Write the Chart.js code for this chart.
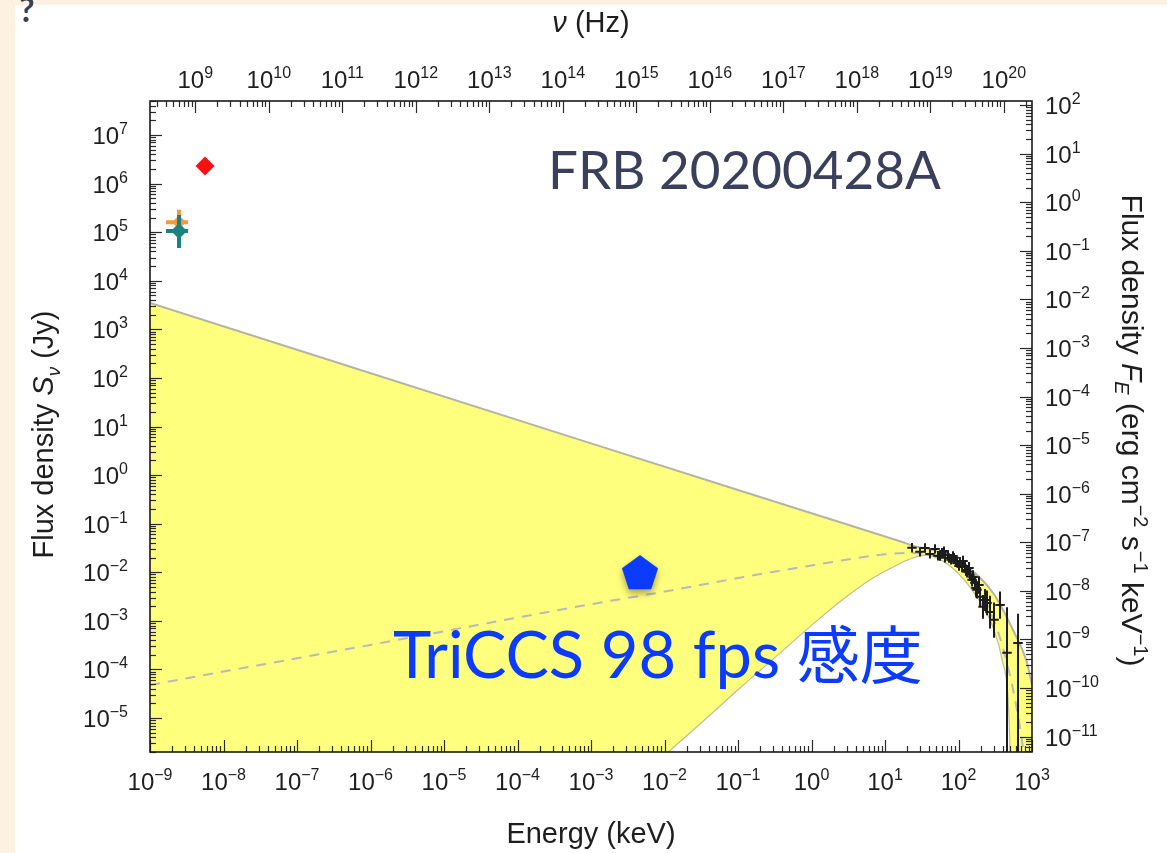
<!DOCTYPE html>
<html>
<head>
<meta charset="utf-8">
<script src="https://cdn.jsdelivr.net/npm/chart.js@4.4.1/dist/chart.umd.min.js"></script>
<style>
  html, body { margin: 0; padding: 0; background: #fdf2e2; overflow: hidden; }
  #page { position: absolute; left: 0; top: 0; width: 1167px; height: 853px; background: #fdf2e2; }
  #sheet { position: absolute; left: 15px; top: 5px; width: 1152px; height: 848px; background: #ffffff; }
  #c { position: absolute; left: 0; top: 0; }
</style>
</head>
<body>
<div id="page"><div id="sheet"></div><canvas id="c" width="1167" height="853"></canvas></div>
<script>
// ---- unit conversions (keV -> Hz, Jy -> erg cm^-2 s^-1 keV^-1) ----
const KEV_TO_HZ = 2.418e17;
const JY_TO_FE = 2.418e-6;

// ---- axis ranges and decade labels ----
const energyRange = [1e-9, 1e3];
const fluxRange = [2.0e-6, 5.0e7];
const energyExponents = [-9, -8, -7, -6, -5, -4, -3, -2, -1, 0, 1, 2, 3];
const freqExponents = [9, 10, 11, 12, 13, 14, 15, 16, 17, 18, 19, 20];
const fluxExponents = [-5, -4, -3, -2, -1, 0, 1, 2, 3, 4, 5, 6, 7];
const fluxEExponents = [-11, -10, -9, -8, -7, -6, -5, -4, -3, -2, -1, 0, 1, 2];

// ---- allowed band of the burst spectrum (upper and lower edges) ----
const bandUpperE = [1e-9, 1e-3, 1, 16, 27.2, 45, 131, 294, 551, 855, 1000];
const bandUpperS = [3.5e3, 4.5, 0.164, 0.0434, 0.0333, 0.0289, 0.0129, 3.78e-3, 6.5e-4, 1.37e-4, 4.8e-5];
const bandLowerE = [1e-9, 4.64e-3, 0.01081, 0.0304, 0.1064, 0.3724, 1.306, 3.34, 6.87, 13.7, 21.9, 35.0, 76.6, 178.6, 294.4, 402.7, 471, 502, 518, 1000];
const bandLowerS = [4e-7, 6.15e-7, 1.90e-6, 7.52e-6, 4.14e-5, 2.17e-4, 1.14e-3, 3.56e-3, 7.60e-3, 0.01343, 0.0187, 0.0226, 0.01343, 3.09e-3, 7.45e-4, 1.35e-4, 2.70e-5, 2.19e-6, 1e-7, 1e-7];

// ---- best-fit model (dashed) ----
const modelE = [1e-9, 1e-6, 1e-3, 1e-2, 0.1, 1, 10, 20, 30, 60, 100, 200, 300, 400, 550, 700, 800];
const modelS = [4.8e-5, 3.2e-4, 2.2e-3, 4.0e-3, 7.6e-3, 0.0138, 0.0234, 0.025, 0.0245, 0.0195, 0.0129, 3.9e-3, 1.07e-3, 2.9e-4, 4e-5, 5.3e-6, 1.3e-6];

// ---- X-ray spectral points with error ranges ----
const xrayE   = [23.3, 29.9, 35.0, 40.9, 47.9, 52.6, 56.0, 59.7, 63.5, 65.5, 71.9, 74.3, 79.1, 84.2, 86.9, 92.5, 95.5, 101.6, 104.7, 111.7, 115.1, 122.5, 126.5, 130.6, 139, 143.2, 152.8, 157.4, 167.5, 173, 178.6, 190, 196.3, 215.3, 229.6, 244.3, 268.5, 304.1, 367.3, 457.1, 645.7];
const xrayElo = [20.1, 25.8, 30.2, 35.3, 41.3, 45.3, 48.3, 51.5, 54.7, 56.5, 62.0, 64.1, 68.2, 72.6, 74.9, 79.7, 82.3, 87.6, 90.3, 96.3, 99.2, 106, 109, 113, 120, 123, 132, 136, 144, 149, 154, 164, 169, 186, 198, 211, 231, 262, 317, 394, 556];
const xrayEhi = [27.0, 34.7, 40.6, 47.4, 55.6, 61.0, 65.0, 69.3, 73.7, 76.0, 83.4, 86.2, 91.8, 97.7, 101, 107, 111, 118, 121, 130, 134, 142, 147, 152, 161, 166, 177, 183, 194, 201, 207, 220, 228, 250, 266, 283, 311, 353, 426, 530, 749];
const xrayS   = [0.0318, 0.0263, 0.0315, 0.0239, 0.0303, 0.0218, 0.0216, 0.0251, 0.0273, 0.0198, 0.0228, 0.0196, 0.0180, 0.0216, 0.0198, 0.0170, 0.0156, 0.0134, 0.0164, 0.0129, 0.0170, 0.0135, 0.0111, 0.0102, 0.0122, 0.00885, 0.00698, 0.00798, 0.00605, 0.00473, 0.00435, 0.00546, 0.00312, 0.00194, 0.00268, 0.00234, 0.00153, 0.00105, 0.00213, 2.2e-4, 3.52e-4];
const xraySlo = [0.0254, 0.0210, 0.0252, 0.0191, 0.0242, 0.0174, 0.0173, 0.0201, 0.0218, 0.0158, 0.0182, 0.0157, 0.0144, 0.0173, 0.0158, 0.0136, 0.0125, 0.0107, 0.0131, 0.0100, 0.0132, 0.0104, 0.0085, 0.0078, 0.0092, 0.0066, 0.0051, 0.0058, 0.0043, 0.0032, 0.0029, 0.0036, 0.0020, 0.0011, 0.0016, 0.0013, 0.0007, 0.00045, 0.0011, 1e-7, 1e-7];
const xrayShi = [0.0398, 0.0329, 0.0394, 0.0299, 0.0379, 0.0273, 0.0270, 0.0314, 0.0341, 0.0248, 0.0285, 0.0245, 0.0225, 0.0270, 0.0248, 0.0213, 0.0195, 0.0168, 0.0205, 0.0166, 0.0219, 0.0174, 0.0144, 0.0133, 0.0162, 0.0119, 0.0096, 0.0110, 0.0085, 0.0070, 0.0065, 0.0083, 0.0049, 0.0034, 0.0045, 0.0042, 0.0033, 0.0024, 0.0040, 0.0019, 0.0014];

// ---- radio detections ----
const chimeAE = [2.48e-9], chimeAS = [1.6e5], chimeAElo = [1.65e-9], chimeAEhi = [3.3e-9], chimeASlo = [8.8e4], chimeAShi = [2.9e5];
const chimeBE = [2.48e-9], chimeBS = [1.06e5], chimeBElo = [1.65e-9], chimeBEhi = [3.3e-9], chimeBSlo = [4.7e4], chimeBShi = [2.26e5];
const stare2E = [5.6e-9], stare2S = [2.3e6];

// ---- TriCCS sensitivity ----
const triccsE = [4.64e-3], triccsS = [9.2e-3];

const AXIS_FONT = "'Liberation Sans', Arial, sans-serif";
const toXY = (xs, ys) => xs.map((x, i) => ({ x: x, y: ys[i] }));

function pentagonSprite(r, color) {
  const size = Math.ceil(2 * r + 28);
  const c = document.createElement('canvas');
  c.width = size; c.height = size;
  const g = c.getContext('2d');
  const cx = size / 2, cy = size / 2;
  g.shadowColor = 'rgba(60,50,0,0.45)';
  g.shadowBlur = 7;
  g.shadowOffsetX = 0;
  g.shadowOffsetY = 4;
  g.beginPath();
  for (let i = 0; i < 5; i++) {
    const a = -Math.PI / 2 + i * 2 * Math.PI / 5;
    const px = cx + r * Math.cos(a), py = cy + r * Math.sin(a);
    if (i === 0) g.moveTo(px, py); else g.lineTo(px, py);
  }
  g.closePath();
  g.fillStyle = color;
  g.fill();
  return c;
}

// rich text: list of runs {t, size, italic, dy}
function runFont(p) {
  return (p.italic ? 'italic ' : '') + (p.size) + 'px ' + AXIS_FONT;
}
function richWidth(ctx, parts) {
  let w = 0;
  parts.forEach(p => { ctx.font = runFont(p); w += ctx.measureText(p.t).width; });
  return w;
}
function drawRich(ctx, parts, x, y, align) {
  const total = richWidth(ctx, parts);
  let cx = align === 'center' ? x - total / 2 : (align === 'right' ? x - total : x);
  ctx.textAlign = 'left';
  ctx.textBaseline = 'alphabetic';
  parts.forEach(p => {
    ctx.font = runFont(p);
    ctx.fillText(p.t, cx, y + (p.dy || 0));
    cx += ctx.measureText(p.t).width;
  });
}
function powParts(e) {
  const sup = e < 0 ? '\u2212' + Math.abs(e) : String(e);
  return [{ t: '10', size: 24 }, { t: sup, size: 16, dy: -10 }];
}

// error bars for datasets that carry ranges
const errorBarPlugin = {
  id: 'errorBars',
  beforeDatasetDraw(chart, args) {
    const ds = chart.data.datasets[args.index];
    if (!ds.errE) return;
    const ctx = chart.ctx, area = chart.chartArea;
    const xs = chart.scales.x, ys = chart.scales.y;
    ctx.save();
    ctx.beginPath();
    ctx.rect(area.left, area.top, area.right - area.left, area.bottom - area.top);
    ctx.clip();
    ctx.strokeStyle = ds.errColor;
    ctx.lineWidth = ds.errWidth;
    ctx.lineCap = 'butt';
    ds.data.forEach((pt, i) => {
      const px = xs.getPixelForValue(pt.x), py = ys.getPixelForValue(pt.y);
      ctx.beginPath();
      ctx.moveTo(xs.getPixelForValue(ds.errE[0][i]), py);
      ctx.lineTo(xs.getPixelForValue(ds.errE[1][i]), py);
      ctx.moveTo(px, ys.getPixelForValue(ds.errS[0][i]));
      ctx.lineTo(px, ys.getPixelForValue(ds.errS[1][i]));
      ctx.stroke();
    });
    ctx.restore();
  }
};

// frame, inward ticks on all four sides, labels, titles and annotations
const framePlugin = {
  id: 'frame',
  afterDraw(chart) {
    const ctx = chart.ctx, a = chart.chartArea;
    const sx = chart.scales.x, sxt = chart.scales.xTop, sy = chart.scales.y, syr = chart.scales.yRight;
    ctx.save();

    // ticks
    ctx.strokeStyle = '#2a2a2a';
    ctx.lineWidth = 1.2;
    const tickRun = (scale, side) => {
      const lo = Math.floor(Math.log10(scale.min)), hi = Math.ceil(Math.log10(scale.max));
      for (let n = lo; n <= hi; n++) {
        for (let k = 1; k <= 9; k++) {
          const v = k * Math.pow(10, n);
          if (v < scale.min * 0.9999 || v > scale.max * 1.0001) continue;
          const p = Math.round(scale.getPixelForValue(v)) + 0.5;
          const len = k === 1 ? 12 : 6;
          ctx.beginPath();
          if (side === 'bottom') { ctx.moveTo(p, a.bottom); ctx.lineTo(p, a.bottom - len); }
          if (side === 'top') { ctx.moveTo(p, a.top); ctx.lineTo(p, a.top + len); }
          if (side === 'left') { ctx.moveTo(a.left, p); ctx.lineTo(a.left + len, p); }
          if (side === 'right') { ctx.moveTo(a.right, p); ctx.lineTo(a.right - len, p); }
          ctx.stroke();
        }
      }
    };
    tickRun(sx, 'bottom'); tickRun(sxt, 'top'); tickRun(sy, 'left'); tickRun(syr, 'right');

    // frame
    ctx.lineWidth = 1.6;
    ctx.strokeStyle = '#1a1a1a';
    ctx.strokeRect(a.left, a.top, a.right - a.left, a.bottom - a.top);

    // tick labels
    ctx.fillStyle = '#1e1e1e';
    energyExponents.forEach(e => drawRich(ctx, powParts(e), sx.getPixelForValue(Math.pow(10, e)), a.bottom + 38, 'center'));
    freqExponents.forEach(e => drawRich(ctx, powParts(e), sxt.getPixelForValue(Math.pow(10, e)), a.top - 13, 'center'));
    fluxExponents.forEach(e => drawRich(ctx, powParts(e), a.left - 22, sy.getPixelForValue(Math.pow(10, e)) + 9, 'right'));
    fluxEExponents.forEach(e => drawRich(ctx, powParts(e), a.right + 13, syr.getPixelForValue(Math.pow(10, e)) + 9, 'left'));

    // axis titles
    const cxMid = (a.left + a.right) / 2;
    const T = 29, S = 19;
    drawRich(ctx, [{ t: '\u03bd', size: T, italic: true }, { t: ' (Hz)', size: T }], cxMid, 32, 'center');
    drawRich(ctx, [{ t: 'Energy (keV)', size: T }], cxMid, 843, 'center');

    ctx.save();
    ctx.translate(53, (a.top + a.bottom) / 2 + 8);
    ctx.rotate(-Math.PI / 2);
    drawRich(ctx, [{ t: 'Flux density ', size: T }, { t: 'S', size: T, italic: true },
                   { t: '\u03bd', size: S, italic: true, dy: 7 }, { t: ' (Jy)', size: T }], 0, 0, 'center');
    ctx.restore();

    const TR = 30, SR = 20;
    ctx.save();
    ctx.translate(1122, (a.top + a.bottom) / 2 + 4);
    ctx.rotate(Math.PI / 2);
    drawRich(ctx, [{ t: 'Flux density ', size: TR }, { t: 'F', size: TR, italic: true },
                   { t: 'E', size: SR, italic: true, dy: 7 }, { t: ' (erg cm', size: TR },
                   { t: '\u22122', size: SR, dy: -12 }, { t: ' s', size: TR }, { t: '\u22121', size: SR, dy: -12 },
                   { t: ' keV', size: TR }, { t: '\u22121', size: SR, dy: -12 }, { t: ')', size: TR }], 0, 0, 'center');
    ctx.restore();

    // annotations
    ctx.textAlign = 'left';
    ctx.textBaseline = 'alphabetic';
    ctx.fillStyle = '#3a3f5c';
    ctx.font = "400 53px Lato, 'Noto Sans', sans-serif";
    ctx.fillText('FRB 20200428A', 548, 189);

    ctx.fillStyle = '#0b3bff';
    ctx.font = "400 65px Lato, 'Noto Sans', sans-serif";
    const latin = 'TriCCS 98 fps ';
    ctx.fillText(latin, 393, 678);
    const lw = ctx.measureText(latin).width;
    ctx.font = "400 63px 'Noto Sans CJK JP', sans-serif";
    ctx.fillText('\u611f\u5ea6', 393 + lw, 678);

    // stray slide glyph at the top-left edge
    ctx.fillStyle = '#3a3f5c';
    ctx.font = "700 34px Lato, sans-serif";
    ctx.fillText('?', 19, 22);

    ctx.restore();
  }
};

const pent = pentagonSprite(19, '#0b3bff');

new Chart(document.getElementById('c'), {
  type: 'line',
  data: {
    datasets: [
      { label: 'TriCCS', type: 'scatter', data: toXY(triccsE, triccsS), pointStyle: pent, pointRadius: 19, showLine: false },
      { label: 'STARE2', type: 'scatter', data: toXY(stare2E, stare2S), pointStyle: 'rectRot', pointRadius: 9.5,
        backgroundColor: '#ff1010', borderColor: '#ff1010', borderWidth: 0, showLine: false },
      { label: 'CHIME 2', type: 'scatter', data: toXY(chimeBE, chimeBS), pointStyle: 'rectRot', pointRadius: 8,
        backgroundColor: '#17847e', borderColor: '#17847e', borderWidth: 0, showLine: false,
        errE: [chimeBElo, chimeBEhi], errS: [chimeBSlo, chimeBShi], errColor: '#17847e', errWidth: 4 },
      { label: 'CHIME 1', type: 'scatter', data: toXY(chimeAE, chimeAS), pointStyle: 'rectRot', pointRadius: 7,
        backgroundColor: '#f59a3c', borderColor: '#f59a3c', borderWidth: 0, showLine: false,
        errE: [chimeAElo, chimeAEhi], errS: [chimeASlo, chimeAShi], errColor: '#f59a3c', errWidth: 4 },
      { label: 'X-ray', type: 'scatter', data: toXY(xrayE, xrayS), pointRadius: 0, showLine: false,
        errE: [xrayElo, xrayEhi], errS: [xraySlo, xrayShi], errColor: '#1c1c1c', errWidth: 2 },
      { label: 'model', data: toXY(modelE, modelS), borderColor: '#b9b9b9', borderWidth: 2, borderDash: [10, 8],
        pointRadius: 0, fill: false, cubicInterpolationMode: 'monotone' },
      { label: 'band lower', data: toXY(bandLowerE, bandLowerS), borderColor: '#bdbd98', borderWidth: 1.2,
        pointRadius: 0, fill: false, cubicInterpolationMode: 'monotone' },
      { label: 'band upper', data: toXY(bandUpperE, bandUpperS), borderColor: '#b4b4a4', borderWidth: 2,
        pointRadius: 0, backgroundColor: 'rgb(255,255,126)', fill: '-1', cubicInterpolationMode: 'monotone' }
    ]
  },
  options: {
    responsive: false,
    devicePixelRatio: 1,
    animation: false,
    events: [],
    layout: { padding: 0, autoPadding: false },
    plugins: { legend: { display: false }, tooltip: { enabled: false }, filler: { propagate: false } },
    scales: {
      x: { type: 'logarithmic', position: 'bottom', min: energyRange[0], max: energyRange[1],
           ticks: { display: false }, grid: { display: false }, border: { display: false },
           afterFit(s) { s.height = 101; } },
      xTop: { type: 'logarithmic', position: 'top', min: energyRange[0] * KEV_TO_HZ, max: energyRange[1] * KEV_TO_HZ,
           ticks: { display: false }, grid: { display: false }, border: { display: false },
           afterFit(s) { s.height = 101; } },
      y: { type: 'logarithmic', position: 'left', min: fluxRange[0], max: fluxRange[1],
           ticks: { display: false }, grid: { display: false }, border: { display: false },
           afterFit(s) { s.width = 150; } },
      yRight: { type: 'logarithmic', position: 'right', min: fluxRange[0] * JY_TO_FE, max: fluxRange[1] * JY_TO_FE,
           ticks: { display: false }, grid: { display: false }, border: { display: false },
           afterFit(s) { s.width = 135; } }
    }
  },
  plugins: [errorBarPlugin, framePlugin]
});
</script>
</body>
</html>
